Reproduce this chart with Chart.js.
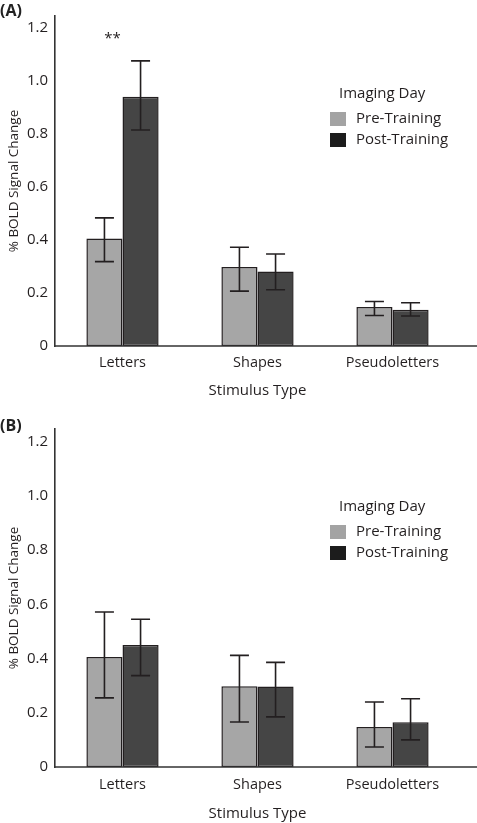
<!DOCTYPE html>
<html>
<head>
<meta charset="utf-8">
<script src="https://cdn.jsdelivr.net/npm/chart.js@4.4.0/dist/chart.umd.min.js"></script>
<style>
  html, body { margin: 0; padding: 0; background: #fff; }
  body { width: 477px; height: 823px; position: relative; overflow: hidden; font-family: "Open Sans", sans-serif; }
  canvas { position: absolute; left: 0; }
  .panel-label { position: absolute; left: 0; font-weight: bold; font-size: 16px; color: #222; font-family: "Open Sans", sans-serif; line-height: 1; }
</style>
</head>
<body>
<canvas id="chartA" width="477" height="411" style="top:0px"></canvas>
<canvas id="chartB" width="477" height="412" style="top:411px"></canvas>
<div class="panel-label" style="top:2px">(A)</div>
<div class="panel-label" style="top:417px">(B)</div>
<script>
// ---------- data ----------
const categories = ['Letters', 'Shapes', 'Pseudoletters'];
const seriesLabels = ['Pre-Training', 'Post-Training'];
const legendTitle = 'Imaging Day';
const xTitle = 'Stimulus Type';
const yTitle = '% BOLD Signal Change';
const yTickValues = [0, 0.2, 0.4, 0.6, 0.8, 1.0, 1.2];
const yTickLabels = ['0', '0.2', '0.4', '0.6', '0.8', '1.0', '1.2'];

// Panel A
const preA = [0.405, 0.298, 0.147];
const postA = [0.940, 0.281, 0.137];
const preALow = [0.318, 0.207, 0.115];
const preAHigh = [0.483, 0.372, 0.168];
const postALow = [0.814, 0.212, 0.113];
const postAHigh = [1.075, 0.347, 0.163];
const sigA = [{ category: 'Letters', value: 1.16, text: '**' }];

// Panel B
const preB = [0.406, 0.298, 0.148];
const postB = [0.450, 0.297, 0.165];
const preBLow = [0.255, 0.166, 0.074];
const preBHigh = [0.572, 0.412, 0.240];
const postBLow = [0.337, 0.185, 0.100];
const postBHigh = [0.545, 0.386, 0.252];
const sigB = [];

// ---------- styles ----------
const INK = '#231f20';
const FONT = '"Open Sans", sans-serif';
const preFill = '#a6a6a6';
const postFill = '#454545';
const preSwatch = '#a3a3a3';
const postSwatch = '#1c1c1c';

const errorBarPlugin = {
  id: 'errorBars',
  afterDatasetsDraw(chart) {
    const ctx = chart.ctx;
    const y = chart.scales.y;
    ctx.save();
    ctx.strokeStyle = INK;
    ctx.lineWidth = 1.6;
    chart.data.datasets.forEach((ds, di) => {
      const meta = chart.getDatasetMeta(di);
      meta.data.forEach((bar, i) => {
        const x = bar.x;
        const yl = y.getPixelForValue(ds.errLow[i]);
        const yh = y.getPixelForValue(ds.errHigh[i]);
        const hw = 9.5;
        ctx.beginPath();
        ctx.moveTo(x, yl); ctx.lineTo(x, yh);
        ctx.moveTo(x - hw, yl); ctx.lineTo(x + hw, yl);
        ctx.moveTo(x - hw, yh); ctx.lineTo(x + hw, yh);
        ctx.stroke();
      });
    });
    // x axis line extended to canvas edge
    const ca = chart.chartArea;
    ctx.lineWidth = 1.6;
    ctx.strokeStyle = '#333';
    ctx.beginPath();
    ctx.moveTo(ca.left - 1, ca.bottom);
    ctx.lineTo(chart.width, ca.bottom);
    ctx.stroke();
    // significance markers
    const sig = chart.options.plugins.errorBars.sig || [];
    ctx.fillStyle = INK;
    ctx.font = '15px ' + FONT;
    ctx.textAlign = 'center';
    ctx.textBaseline = 'middle';
    sig.forEach(s => {
      const xs = chart.scales.x.getPixelForValue(categories.indexOf(s.category)) - 10;
      ctx.fillText(s.text, xs, y.getPixelForValue(s.value));
    });
    // legend
    const lx = ca.right - 130;
    const ly = ca.top;
    ctx.textAlign = 'left';
    ctx.font = '15px ' + FONT;
    ctx.fillText(legendTitle, lx + 9, ly + 78);
    const sw = [preSwatch, postSwatch];
    seriesLabels.forEach((lab, k) => {
      const top = ly + 96 + k * 21;
      ctx.fillStyle = sw[k];
      ctx.fillRect(lx, top, 16, 14);
      ctx.fillStyle = INK;
      ctx.fillText(lab, lx + 26, top + 7);
    });
    ctx.restore();
  }
};

function makeChart(id, pre, post, preLow, preHigh, postLow, postHigh, sig, o) {
  return new Chart(document.getElementById(id), {
    type: 'bar',
    data: {
      labels: categories,
      datasets: [
        { label: seriesLabels[0], data: pre, errLow: preLow, errHigh: preHigh,
          backgroundColor: preFill, borderColor: INK, borderWidth: 1.5, borderSkipped: false },
        { label: seriesLabels[1], data: post, errLow: postLow, errHigh: postHigh,
          backgroundColor: postFill, borderColor: INK, borderWidth: 1.5, borderSkipped: false }
      ]
    },
    options: {
      responsive: false,
      animation: false,
      devicePixelRatio: 1,
      layout: { padding: { top: o.top, right: 17, left: 0, bottom: 0 } },
      datasets: { bar: { barPercentage: 1.0, categoryPercentage: 0.535 } },
      plugins: {
        legend: { display: false },
        tooltip: { enabled: false },
        errorBars: { sig: sig }
      },
      scales: {
        x: {
          grid: { display: false, drawTicks: false },
          border: { display: false },
          ticks: { color: INK, font: { family: FONT, size: 14.5 }, padding: o.tickPad, maxRotation: 0 },
          title: { display: true, text: xTitle, color: INK, font: { family: FONT, size: 15 }, padding: { top: 0, bottom: o.titlePad } },
          afterFit(scale) { scale.height = o.xHeight; }
        },
        y: {
          min: 0, max: o.yMax,
          grid: { display: false, drawTicks: false },
          border: { display: true, color: '#333', width: 1.6 },
          afterBuildTicks(scale) { scale.ticks = yTickValues.map(v => ({ value: v })); },
          ticks: {
            color: INK, font: { family: FONT, size: 15 }, padding: 7,
            callback(v) { const k = yTickValues.indexOf(v); return k >= 0 ? yTickLabels[k] : ''; }
          },
          title: { display: true, text: yTitle, color: INK, font: { family: FONT, size: 13.5 }, padding: { top: 6, bottom: 0 } },
          afterFit(scale) { scale.width = 55; }
        }
      }
    },
    plugins: [errorBarPlugin]
  });
}

makeChart('chartA', preA, postA, preALow, preAHigh, postALow, postAHigh, sigA,
  { top: 8, yMax: 1.244, xHeight: 65, tickPad: 8, titlePad: 11 });
makeChart('chartB', preB, postB, preBLow, preBHigh, postBLow, postBHigh, sigB,
  { top: 18, yMax: 1.247, xHeight: 56, tickPad: 9, titlePad: 0 });
</script>
</body>
</html>
